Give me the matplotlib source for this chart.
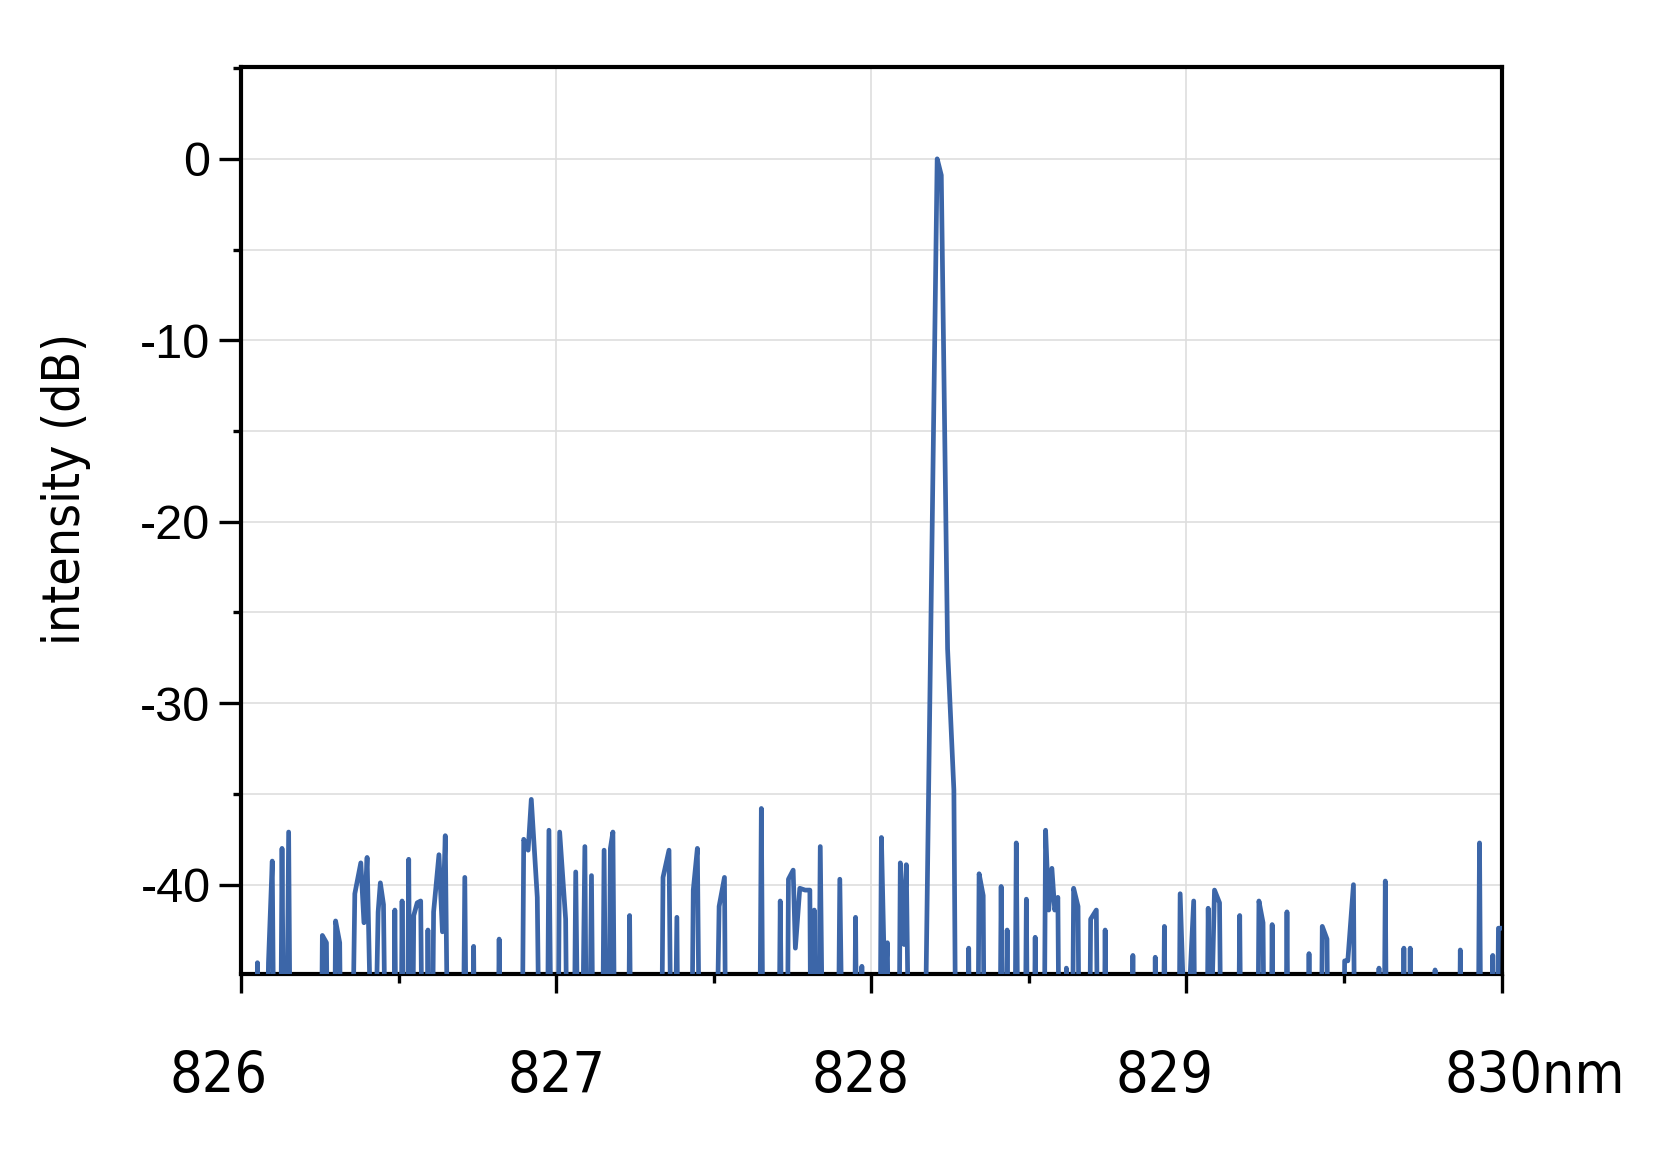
import matplotlib.pyplot as plt
from matplotlib.ticker import MultipleLocator

# spectrum (values below the -45 dB floor are clipped)
wavelength = [
    826.000, 826.045, 826.052, 826.062, 826.082, 826.087, 826.099, 826.109,
    826.122, 826.130, 826.140, 826.151, 826.160,
    826.250, 826.258, 826.271, 826.280,
    826.292, 826.300, 826.313, 826.322,
    826.345, 826.361, 826.380, 826.390, 826.400, 826.420, 826.435, 826.442, 826.452, 826.465,
    826.480, 826.488, 826.497,
    826.504, 826.511, 826.520,
    826.524, 826.532, 826.540,
    826.548, 826.559, 826.570, 826.580,
    826.586, 826.593, 826.602,
    826.611, 826.628, 826.639, 826.648, 826.662,
    826.700, 826.710, 826.720,
    826.730, 826.738, 826.746,
    826.810, 826.819, 826.828,
    826.888, 826.897, 826.911, 826.921, 826.940, 826.953,
    826.968, 826.977, 826.990,
    827.002, 827.011, 827.030, 827.040,
    827.052, 827.062, 827.076, 827.091, 827.100, 827.112, 827.122,
    827.143, 827.152, 827.163, 827.172, 827.180, 827.190,
    827.225, 827.233, 827.242,
    827.330, 827.339, 827.358, 827.370, 827.383, 827.391,
    827.425, 827.435, 827.448, 827.460,
    827.500, 827.517, 827.534, 827.542,
    827.642, 827.651, 827.660,
    827.702, 827.711, 827.722,
    827.730, 827.737, 827.752, 827.759, 827.773, 827.790, 827.805, 827.811,
    827.819, 827.828, 827.838, 827.852,
    827.890, 827.900, 827.916,
    827.942, 827.950, 827.958,
    827.964, 827.970, 827.976,
    828.024, 828.032, 828.043, 828.051, 828.060,
    828.084, 828.092, 828.104, 828.111, 828.126,
    828.170, 828.209, 828.222, 828.242, 828.262, 828.272,
    828.300, 828.309, 828.318,
    828.334, 828.342, 828.355, 828.362,
    828.404, 828.412, 828.420, 828.431, 828.440,
    828.452, 828.460, 828.470,
    828.484, 828.492, 828.500,
    828.512, 828.520, 828.528,
    828.545, 828.553, 828.563, 828.573, 828.582, 828.592, 828.600,
    828.612, 828.619, 828.626,
    828.634, 828.642, 828.656, 828.664,
    828.688, 828.696, 828.714, 828.724,
    828.735, 828.742, 828.750,
    828.822, 828.830, 828.838,
    828.894, 828.901, 828.908,
    828.922, 828.930, 828.938,
    828.972, 828.980, 828.998, 829.023, 829.032,
    829.060, 829.069, 829.076, 829.089, 829.105, 829.115,
    829.160, 829.169, 829.178,
    829.222, 829.230, 829.243, 829.252,
    829.264, 829.272, 829.280,
    829.311, 829.319, 829.327,
    829.381, 829.389, 829.397,
    829.423, 829.431, 829.446, 829.454,
    829.494, 829.502, 829.512, 829.530, 829.538,
    829.604, 829.611, 829.618,
    829.623, 829.631, 829.639,
    829.682, 829.690, 829.698,
    829.702, 829.710, 829.718,
    829.782, 829.789, 829.796,
    829.861, 829.869, 829.877,
    829.922, 829.930, 829.938,
    829.964, 829.972, 829.982, 829.990, 830.000,
]
intensity = [
    -60, -60, -44.3, -60, -50, -44.3, -38.7, -60,
    -60, -38.0, -60, -37.1, -60,
    -60, -42.8, -43.2, -60,
    -60, -42.0, -43.2, -60,
    -60, -40.5, -38.8, -42.1, -38.5, -55, -41.5, -39.9, -41.1, -60,
    -60, -41.4, -60,
    -60, -40.9, -60,
    -60, -38.6, -60,
    -41.7, -41.0, -40.9, -60,
    -60, -42.5, -60,
    -41.5, -38.35, -42.6, -37.3, -60,
    -60, -39.6, -60,
    -60, -43.4, -60,
    -60, -43.0, -60,
    -60, -37.5, -38.1, -35.3, -40.7, -60,
    -60, -37.0, -60,
    -60, -37.1, -41.9, -60,
    -60, -39.3, -60, -37.9, -60, -39.5, -60,
    -60, -38.1, -60, -38.0, -37.1, -60,
    -60, -41.7, -60,
    -60, -39.6, -38.1, -60, -41.8, -60,
    -60, -40.3, -38.0, -60,
    -60, -41.2, -39.6, -60,
    -60, -35.8, -60,
    -60, -40.9, -60,
    -60, -39.7, -39.2, -43.5, -40.2, -40.3, -40.3, -60,
    -41.4, -60, -37.9, -60,
    -60, -39.7, -60,
    -60, -41.8, -60,
    -60, -44.5, -60,
    -60, -37.4, -46, -43.2, -60,
    -60, -38.8, -43.3, -38.9, -60,
    -50, 0.0, -0.9, -27.0, -34.8, -60,
    -60, -43.5, -60,
    -60, -39.4, -40.6, -60,
    -60, -40.1, -60, -42.5, -60,
    -60, -37.7, -60,
    -60, -40.8, -60,
    -60, -42.9, -60,
    -60, -37.0, -41.4, -39.1, -41.4, -40.7, -60,
    -60, -44.6, -60,
    -60, -40.2, -41.2, -60,
    -60, -41.9, -41.4, -60,
    -60, -42.5, -60,
    -60, -43.9, -60,
    -60, -44.0, -60,
    -60, -42.3, -60,
    -60, -40.5, -50, -40.9, -60,
    -60, -41.3, -50, -40.3, -41.0, -60,
    -60, -41.7, -60,
    -60, -40.9, -42.1, -60,
    -60, -42.2, -60,
    -60, -41.5, -60,
    -60, -43.8, -60,
    -60, -42.3, -43.0, -60,
    -60, -44.2, -44.2, -40.0, -60,
    -60, -44.6, -60,
    -60, -39.8, -60,
    -60, -43.5, -60,
    -60, -43.5, -60,
    -60, -44.7, -60,
    -60, -43.6, -60,
    -60, -37.7, -60,
    -60, -43.9, -60, -42.4, -42.4,
]

x_ticks = [826, 827, 828, 829, 830]
x_labels = ['826', '827', '828', '829', '830nm']
x_label_shift = [-16, 0, -8, -16, 24]  # points, labels sit a bit off their ticks
y_ticks = [0, -10, -20, -30, -40]

narrow = dict(family='DejaVu Sans', stretch='condensed')

fig = plt.figure(figsize=(16.74, 11.59), dpi=100)
ax = fig.add_axes([0.144, 0.160, 0.753, 0.782])

ax.plot(wavelength, intensity, color='#3c66a8', lw=3.4, solid_joinstyle='round',
        solid_capstyle='round', zorder=3)

ax.set_xlim(826, 830)
ax.set_ylim(-44.9, 5.05)

ax.set_xticks(x_ticks)
ax.set_xticklabels([])
for xv, lab, dx in zip(x_ticks, x_labels, x_label_shift):
    ax.annotate(lab, xy=(xv, 0), xycoords=('data', 'axes fraction'),
                xytext=(dx, -86), textcoords='offset points',
                ha='center', va='baseline', fontsize=41, **narrow)
ax.xaxis.set_minor_locator(MultipleLocator(0.5))
ax.set_yticks(y_ticks)
ax.set_yticklabels([str(v) for v in y_ticks], family='Liberation Sans', fontsize=35)
ax.yaxis.set_minor_locator(MultipleLocator(5))

ax.tick_params(axis='x', which='major', direction='out', length=14, width=2.4)
ax.tick_params(axis='x', which='minor', direction='out', length=6.5, width=2.4)
ax.tick_params(axis='y', which='major', direction='out', length=16, width=2.4, pad=6)
ax.tick_params(axis='y', which='minor', direction='out', length=6, width=2.4)

ax.grid(True, which='major', axis='x', color='#dedede', lw=1.2, zorder=0)
ax.grid(True, which='both', axis='y', color='#dedede', lw=1.2, zorder=0)

for s in ax.spines.values():
    s.set_linewidth(3.0)
    s.set_color('black')

ax.set_ylabel('intensity (dB)', fontsize=37, va='center', **narrow)
ax.yaxis.set_label_coords(-0.139, 0.535)

fig.savefig('out.png', dpi=100)
